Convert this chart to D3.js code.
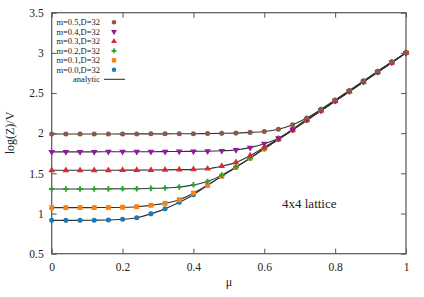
<!DOCTYPE html>
<html>
<head>
<meta charset="utf-8">
<script src="https://cdn.jsdelivr.net/npm/d3@7"></script>
<style>
  body { margin: 0; background: #fff; }
  text { font-family: "Liberation Serif", "DejaVu Serif", serif; fill: #222; }
</style>
</head>
<body>
<div id="container"></div>
<script>
const mu = [0, 0.04, 0.08, 0.12, 0.16, 0.2, 0.24, 0.28, 0.32, 0.36, 0.4, 0.44, 0.48,
  0.52, 0.56, 0.6, 0.64, 0.68, 0.72, 0.76, 0.8, 0.84, 0.88, 0.92, 0.96, 1];

const m00 = [0.915, 0.915, 0.915, 0.917, 0.92, 0.928, 0.948, 0.996, 1.058, 1.14, 1.235,
  1.352, 1.466, 1.575, 1.69, 1.807, 1.924, 2.04, 2.162, 2.28, 2.4, 2.52, 2.64, 2.76, 2.88, 3.0];
const m01 = [1.073, 1.073, 1.073, 1.074, 1.075, 1.078, 1.085, 1.102, 1.127, 1.172, 1.255,
  1.353, 1.466, 1.575, 1.69, 1.807, 1.924, 2.04, 2.162, 2.28, 2.4, 2.52, 2.64, 2.76, 2.88, 3.0];
const m02 = [1.305, 1.305, 1.305, 1.306, 1.307, 1.308, 1.309, 1.313, 1.318, 1.33, 1.357,
  1.4, 1.478, 1.58, 1.69, 1.808, 1.925, 2.04, 2.162, 2.28, 2.4, 2.52, 2.64, 2.76, 2.88, 3.0];
const m03 = [1.538, 1.538, 1.538, 1.539, 1.539, 1.54, 1.54, 1.541, 1.543, 1.546, 1.55,
  1.558, 1.59, 1.637, 1.72, 1.824, 1.932, 2.045, 2.165, 2.282, 2.4, 2.52, 2.64, 2.76, 2.88, 3.0];
const m04 = [1.768, 1.768, 1.768, 1.768, 1.769, 1.769, 1.77, 1.77, 1.771, 1.772, 1.774,
  1.776, 1.781, 1.791, 1.82, 1.869, 1.937, 2.048, 2.173, 2.288, 2.405, 2.522, 2.642, 2.762, 2.88, 3.0];
const m05 = [1.99, 1.99, 1.99, 1.99, 1.99, 1.991, 1.991, 1.992, 1.992, 1.993, 1.994,
  1.996, 1.998, 2.001, 2.01, 2.022, 2.05, 2.106, 2.19, 2.297, 2.413, 2.532, 2.652, 2.772, 2.89, 3.0];

const seriesNames = ["m=0.5,D=32", "m=0.4,D=32", "m=0.3,D=32", "m=0.2,D=32", "m=0.1,D=32", "m=0.0,D=32"];
const seriesValues = [m05, m04, m03, m02, m01, m00];
const seriesColors = ["#8c564b", "#8e1a9e", "#e0282c", "#2ca02c", "#ff7f0e", "#1f77b4"];
const seriesSymbols = [d3.symbolCircle, d3.symbolTriangle, d3.symbolTriangle, d3.symbolCross, d3.symbolSquare, d3.symbolCircle];
const seriesRotate = [0, 180, 0, 0, 0, 0];
const seriesSize = [20, 19, 19, 17, 24, 20];

const xTicks = [0, 0.2, 0.4, 0.6, 0.8, 1];
const yTicks = [0.5, 1, 1.5, 2, 2.5, 3, 3.5];

const width = 424, height = 297;
const svg = d3.select("#container").append("svg")
  .attr("width", width).attr("height", height);

const x = d3.scaleLinear().domain([0, 1]).range([51.7, 406]);
const y = d3.scaleLinear().domain([0.5, 3.5]).range([253.7, 12.7]);

// frame + ticks
const axisColor = "#555";
function styleAxis(g) {
  g.select(".domain").remove();
  g.selectAll(".tick line").attr("stroke", axisColor);
  g.selectAll(".tick text").attr("font-size", "11.5px").attr("fill", "#222")
    .attr("font-family", "Liberation Serif, serif");
}
svg.append("g").attr("transform", `translate(0,${y(0.5)})`)
  .call(d3.axisBottom(x).tickValues(xTicks).tickFormat(d3.format("~g")).tickSizeInner(-5).tickSizeOuter(0).tickPadding(9))
  .call(styleAxis);
svg.append("g").attr("transform", `translate(0,${y(3.5)})`)
  .call(d3.axisTop(x).tickValues(xTicks).tickFormat("").tickSizeInner(-5).tickSizeOuter(0))
  .call(styleAxis);
svg.append("g").attr("transform", `translate(${x(0)},0)`)
  .call(d3.axisLeft(y).tickValues(yTicks).tickFormat(d3.format("~g")).tickSizeInner(-5).tickSizeOuter(0).tickPadding(8))
  .call(styleAxis);
svg.append("g").attr("transform", `translate(${x(1)},0)`)
  .call(d3.axisRight(y).tickValues(yTicks).tickFormat("").tickSizeInner(-5).tickSizeOuter(0))
  .call(styleAxis);

svg.append("rect")
  .attr("x", x(0)).attr("y", y(3.5))
  .attr("width", x(1) - x(0)).attr("height", y(0.5) - y(3.5))
  .attr("fill", "none").attr("stroke", axisColor).attr("stroke-width", 1.2);

// analytic curves
const line = d3.line().x((d, i) => x(mu[i])).y(d => y(d)).curve(d3.curveMonotoneX);
seriesValues.forEach(vals => {
  svg.append("path").attr("d", line(vals))
    .attr("fill", "none").attr("stroke", "#333").attr("stroke-width", 1.1);
});

// data points
seriesValues.slice().reverse().forEach((vals, k) => {
  const j = seriesValues.length - 1 - k;
  const sym = d3.symbol().type(seriesSymbols[j]).size(seriesSize[j]);
  svg.append("g").selectAll("path").data(vals).join("path")
    .attr("d", sym)
    .attr("transform", (d, i) => `translate(${x(mu[i])},${y(d)}) rotate(${seriesRotate[j]})`)
    .attr("fill", seriesColors[j]);
});

// legend
const legend = svg.append("g");
seriesNames.forEach((name, j) => {
  const ly = 22.3 + j * 9.5;
  legend.append("text").attr("x", 100).attr("y", ly + 3)
    .attr("text-anchor", "end").attr("font-size", "8.5px").text(name);
  legend.append("path")
    .attr("d", d3.symbol().type(seriesSymbols[j]).size(seriesSize[j] * 0.8))
    .attr("transform", `translate(114,${ly}) rotate(${seriesRotate[j]})`)
    .attr("fill", seriesColors[j]);
});
legend.append("text").attr("x", 100).attr("y", 22.3 + 6 * 9.5 + 3)
  .attr("text-anchor", "end").attr("font-size", "8.5px").text("analytic");
legend.append("line").attr("x1", 104).attr("x2", 125)
  .attr("y1", 22.3 + 6 * 9.5).attr("y2", 22.3 + 6 * 9.5)
  .attr("stroke", "#333").attr("stroke-width", 1.1);

// labels
svg.append("text").attr("x", 229).attr("y", 285.5).attr("text-anchor", "middle")
  .attr("font-size", "12px").text("μ");
svg.append("text").attr("transform", "translate(14,133) rotate(-90)")
  .attr("text-anchor", "middle").attr("font-size", "12px").text("log(Z)/V");
svg.append("text").attr("x", 282).attr("y", 207.5)
  .attr("font-size", "13px").text("4x4 lattice");
</script>
</body>
</html>
